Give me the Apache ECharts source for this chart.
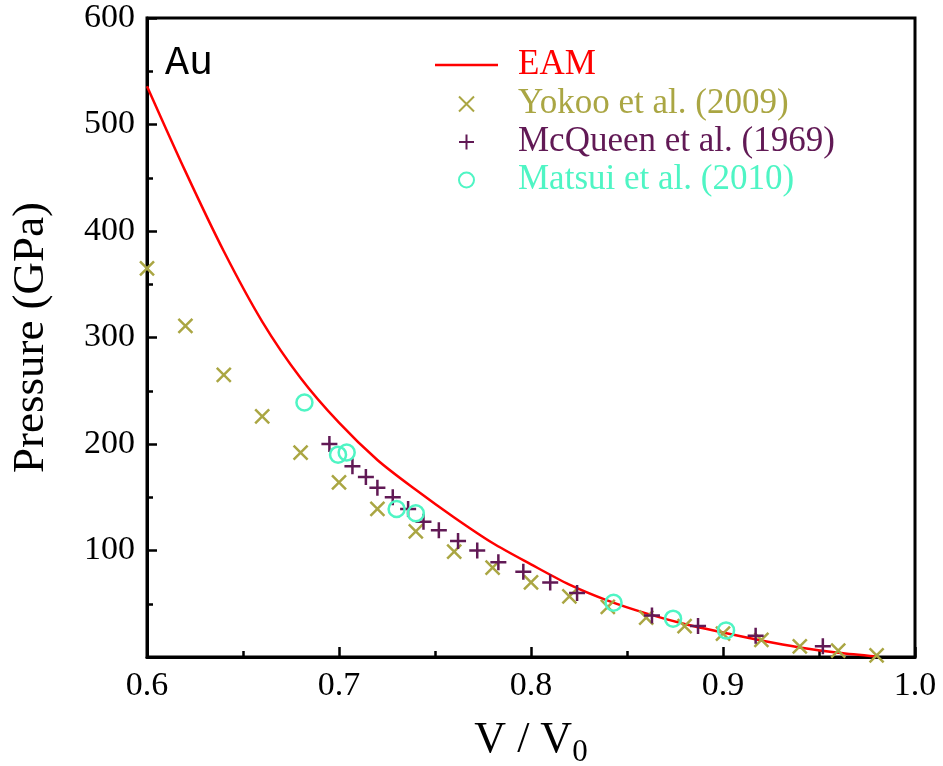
<!DOCTYPE html>
<html>
<head>
<meta charset="utf-8">
<script src="https://cdn.jsdelivr.net/npm/echarts@6/dist/echarts.min.js"></script>
<style>html,body{margin:0;padding:0;background:#fff;}#c{width:943px;height:766px;}</style>
</head>
<body>
<div id="c"></div>
<script>
// EAM curve (V/V0, GPa)
const eamX = [0.60, 0.62, 0.64, 0.66, 0.68, 0.70, 0.72, 0.74, 0.76, 0.78, 0.80, 0.82, 0.84, 0.86, 0.88, 0.90, 0.92, 0.94, 0.96, 0.98];
const eamY = [536, 456, 381, 315, 262, 220, 185, 157, 131, 107, 87, 68, 53, 41, 31, 23, 15.5, 9, 4, 0.5];
// Yokoo et al. (2009)
const yokooX = [0.60, 0.62, 0.64, 0.66, 0.68, 0.70, 0.72, 0.74, 0.76, 0.78, 0.80, 0.82, 0.84, 0.86, 0.88, 0.90, 0.92, 0.94, 0.96, 0.98];
const yokooY = [365, 311, 265, 226, 192, 164, 139, 118, 99, 84, 70, 57, 47, 37, 29, 22, 16, 10, 6, 1.5];
// McQueen et al. (1969)
const mcqX = [0.695, 0.707, 0.714, 0.720, 0.728, 0.736, 0.744, 0.752, 0.762, 0.772, 0.783, 0.796, 0.810, 0.824, 0.863, 0.887, 0.917, 0.952];
const mcqY = [200, 179, 169, 159, 150, 139, 127, 119, 109, 100, 89, 80, 70, 60, 39, 29, 20, 10];
// Matsui et al. (2010)
const matX = [0.682, 0.6995, 0.704, 0.730, 0.740, 0.843, 0.874, 0.9016];
const matY = [239, 190, 192, 139, 135, 51, 36, 25];
// Axis ticks
const xTicks = [0.6, 0.7, 0.8, 0.9, 1.0];
const yTicks = [100, 200, 300, 400, 500, 600];

const zip = (a, b) => a.map((v, i) => [v, b[i]]);
const serif = '"Liberation Serif", "DejaVu Serif", serif';
const cYokoo = '#aaa643', cMcq = '#611955', cMat = '#4ff5c4', cEam = '#ff0000';
const legendText = {fontFamily: serif, fontSize: 35, lineHeight: 38, padding: [0, 0, 0, 15]};

const chart = echarts.init(document.getElementById('c'), null, {renderer: 'canvas'});
chart.setOption({
  animation: false,
  backgroundColor: '#fff',
  title: {
    text: 'Au', left: 165, top: 43, padding: 0,
    textStyle: {fontFamily: '"Liberation Mono", "DejaVu Sans Mono", monospace', fontSize: 40, fontWeight: 'normal', color: '#000'}
  },
  grid: {left: 147, right: 28, top: 18, bottom: 109, show: true, borderColor: '#000', borderWidth: 3,
    containLabel: false, outerBoundsMode: 'none'},
  legend: [
    {orient: 'vertical', left: 435, top: 46, padding: 0, itemWidth: 63, itemHeight: 2.5, itemGap: 0,
      icon: 'rect', textStyle: legendText,
      data: [{name: 'EAM', textStyle: {color: cEam}}]},
    {orient: 'vertical', left: 458, top: 85, padding: 0, itemWidth: 63, itemHeight: 15, itemGap: 0,
      textStyle: legendText,
      data: [
        {name: 'Yokoo et al. (2009)', textStyle: {color: cYokoo}},
        {name: 'McQueen et al. (1969)', textStyle: {color: cMcq}},
        {name: 'Matsui et al. (2010)', textStyle: {color: cMat}}
      ]}
  ],
  xAxis: {
    type: 'value', min: 0.6, max: 1.0, interval: 0.1,
    name: 'V / V{sub|0}', nameLocation: 'middle', nameGap: 56,
    nameTextStyle: {fontFamily: serif, fontSize: 44, color: '#000',
      rich: {sub: {fontFamily: serif, fontSize: 31, verticalAlign: 'bottom', padding: [24, 0, 0, 0], color: '#000'}}},
    axisLine: {lineStyle: {color: '#000', width: 3}},
    axisTick: {inside: true, length: 10, lineStyle: {color: '#000', width: 2.5}},
    minorTick: {show: true, splitNumber: 2, length: 6, lineStyle: {color: '#000', width: 2.5}},
    splitLine: {show: false},
    axisLabel: {fontFamily: serif, fontSize: 34, color: '#000', margin: 12,
      formatter: v => { const t = xTicks.find(k => Math.abs(k - v) < 1e-6); return t === undefined ? '' : t.toFixed(1); }}
  },
  yAxis: {
    type: 'value', min: 0, max: 600, interval: 100,
    name: 'Pressure (GPa)', nameLocation: 'middle', nameGap: 93,
    nameTextStyle: {fontFamily: serif, fontSize: 45, color: '#000'},
    axisLine: {lineStyle: {color: '#000', width: 3}},
    axisTick: {inside: true, length: 10, lineStyle: {color: '#000', width: 2.5}},
    minorTick: {show: true, splitNumber: 2, length: 6, lineStyle: {color: '#000', width: 2.5}},
    splitLine: {show: false},
    axisLabel: {fontFamily: serif, fontSize: 34, color: '#000', margin: 12,
      formatter: v => yTicks.includes(v) ? String(v) : ''}
  },
  series: [
    {name: 'EAM', type: 'line', data: zip(eamX, eamY), smooth: 0.3, symbol: 'none',
      lineStyle: {color: cEam, width: 2.5}, itemStyle: {color: cEam}, z: 2},
    {name: 'Yokoo et al. (2009)', type: 'scatter', data: zip(yokooX, yokooY),
      symbol: 'path://M0,0L10,10M10,0L0,10', symbolSize: 14,
      itemStyle: {color: 'rgba(0,0,0,0)', borderColor: cYokoo, borderWidth: 2.5, opacity: 1}, z: 3},
    {name: 'McQueen et al. (1969)', type: 'scatter', data: zip(mcqX, mcqY),
      symbol: 'path://M5,0L5,10M0,5L10,5', symbolSize: 16,
      itemStyle: {color: 'rgba(0,0,0,0)', borderColor: cMcq, borderWidth: 2.5, opacity: 1}, z: 4},
    {name: 'Matsui et al. (2010)', type: 'scatter', data: zip(matX, matY),
      symbol: 'circle', symbolSize: 16,
      itemStyle: {color: 'rgba(0,0,0,0)', borderColor: cMat, borderWidth: 2.5, opacity: 1}, z: 5}
  ]
});
</script>
</body>
</html>
